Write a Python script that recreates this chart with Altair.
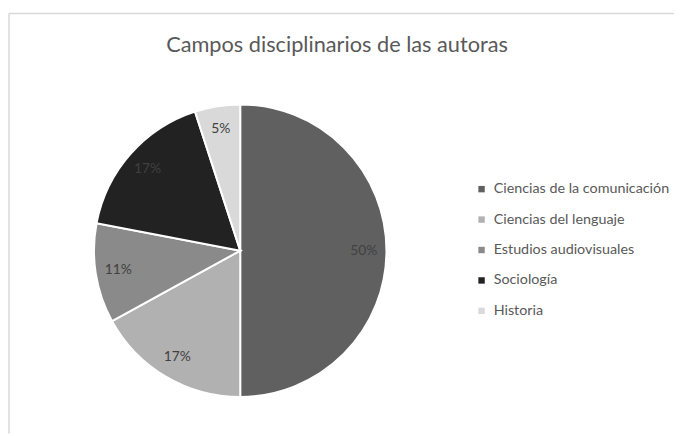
import altair as alt
import pandas as pd

title_text = ["Campos disciplinarios de las autoras"]
categories = ["Ciencias de la comunicación", "Ciencias del lenguaje",
              "Estudios audiovisuales", "Sociología", "Historia"]
values = [50, 17, 11, 17, 5]
labels = ["50%", "17%", "11%", "17%", "5%"]
colors = ["#606060", "#b1b1b1", "#8a8a8a", "#222222", "#d9d9d9"]

df = pd.DataFrame({"cat": categories, "value": values, "label": labels,
                   "order": list(range(len(categories)))})

cx, cy, R = 235, 243, 148

base = alt.Chart(df).encode(
    theta=alt.Theta("value:Q", stack=True),
    order=alt.Order("order:Q"),
)

pie = base.mark_arc(outerRadius=R, stroke="white", strokeWidth=2).encode(
    x=alt.value(cx), y=alt.value(cy),
    color=alt.Color("cat:N", sort=categories,
                    scale=alt.Scale(domain=categories, range=colors),
                    legend=alt.Legend(title=None, orient="none",
                                      legendX=472, legendY=173.5,
                                      symbolType="square", symbolSize=42,
                                      symbolStrokeWidth=0,
                                      labelFont="Lato", labelFontSize=14.5,
                                      labelColor="#595959", labelOffset=5,
                                      labelLimit=300,
                                      rowPadding=15.8, padding=0)),
)

txt = base.mark_text(radius=125, font="Lato", fontSize=14, color="#404040").encode(
    x=alt.value(cx), y=alt.value(cy),
    text="label:N",
)

title = alt.Chart(pd.DataFrame({"t": title_text})).mark_text(
    font="Lato", fontSize=22, color="#595959", align="center", baseline="middle"
).encode(x=alt.value(333), y=alt.value(35), text="t:N")

border_top = alt.Chart(pd.DataFrame({"a": [0]})).mark_rule(color="#d9d9d9", strokeWidth=1.5).encode(
    x=alt.value(1), x2=alt.value(674), y=alt.value(3))
border_left = alt.Chart(pd.DataFrame({"a": [0]})).mark_rule(color="#d9d9d9", strokeWidth=1.5).encode(
    x=alt.value(1), y=alt.value(3), y2=alt.value(428))

chart = alt.layer(border_top, border_left, title, pie, txt).properties(
    width=674, height=428,
    autosize=alt.AutoSizeParams(type="none"),
    padding=0,
).configure_view(stroke=None)

chart.save("out.html", embed_options={"renderer": "svg", "actions": False})
